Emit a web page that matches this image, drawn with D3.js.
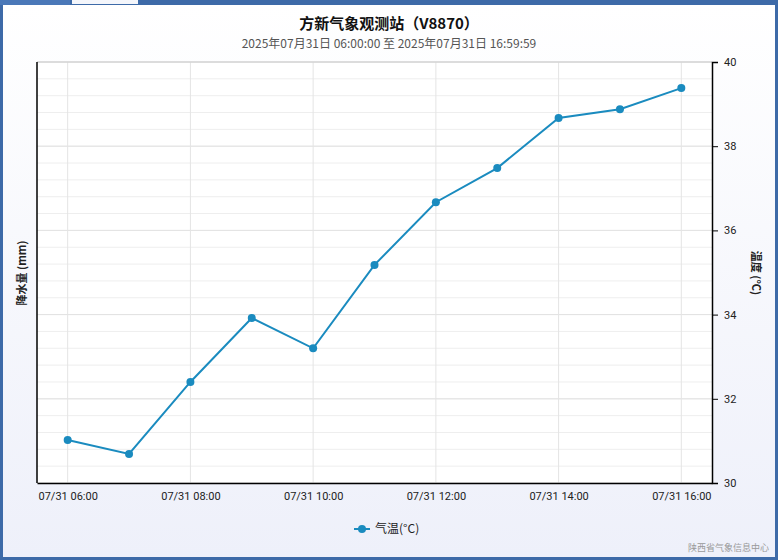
<!DOCTYPE html>
<html><head><meta charset="utf-8">
<script src="https://cdn.jsdelivr.net/npm/d3@7"></script>
<style>body{margin:0;background:#fff;font-family:"Microsoft YaHei","Noto Sans CJK SC",sans-serif}</style>
</head><body><svg id="c" width="778" height="560"></svg>
<script>
const hours = [6,7,8,9,10,11,12,13,14,15,16];
const temps = [31.02,30.69,32.4,33.92,33.2,35.18,36.67,37.48,38.67,38.88,39.38];
const xTicks = [6,8,10,12,14,16];
const yTicks = [30,32,34,36,38,40];
const title = "方新气象观测站（V8870）";
const subtitle = "2025年07月31日 06:00:00 至 2025年07月31日 16:59:59";

const svg = d3.select("#c");
const defs = svg.append("defs");
const g0 = defs.append("linearGradient").attr("id","bg").attr("x1",0).attr("y1",0).attr("x2",0).attr("y2",1);
g0.append("stop").attr("offset",0).attr("stop-color","#ffffff");
g0.append("stop").attr("offset",1).attr("stop-color","#eef0fa");
svg.append("rect").attr("width",778).attr("height",560).attr("fill","#3d6aa8");
svg.append("rect").attr("x",3).attr("y",5).attr("width",772).attr("height",552).attr("fill","url(#bg)");
svg.append("rect").attr("x",0).attr("y",0).attr("width",70).attr("height",5).attr("fill","#4a78b8");
svg.append("rect").attr("x",72).attr("y",0).attr("width",66).attr("height",4).attr("fill","#f4f6fb");

const L=37,R=712,T=62,B=483;
const x = d3.scaleLinear().domain([5.5,16.5]).range([L,R]);
const y = d3.scaleLinear().domain([30,40]).range([B,T]);
svg.append("rect").attr("x",L).attr("y",T).attr("width",R-L).attr("height",B-T).attr("fill","#fff");
const minor = d3.range(30,40.01,0.4);
svg.append("g").selectAll("line").data(minor).join("line")
  .attr("x1",L).attr("x2",R).attr("y1",d=>y(d)).attr("y2",d=>y(d)).attr("stroke","#eeeeee");
svg.append("g").selectAll("line").data(yTicks).join("line")
  .attr("x1",L).attr("x2",R).attr("y1",d=>y(d)).attr("y2",d=>y(d)).attr("stroke","#e2e2e2");
svg.append("g").selectAll("line").data(xTicks).join("line")
  .attr("x1",d=>x(d)).attr("x2",d=>x(d)).attr("y1",T).attr("y2",B).attr("stroke","#e4e4e4");
svg.append("line").attr("x1",L).attr("x2",R).attr("y1",T).attr("y2",T).attr("stroke","#ccc");

const fmt = h=>"07/31 "+String(h).padStart(2,"0")+":00";
const xa = svg.append("g").attr("transform",`translate(0,${B})`)
  .call(d3.axisBottom(x).tickValues(xTicks).tickFormat(fmt).tickSize(0).tickPadding(9));
xa.select(".domain").attr("stroke","#000").attr("stroke-width",1.5);
xa.selectAll("text").attr("font-size",11).attr("fill","#222").attr("font-family","Roboto,sans-serif");
const ya = svg.append("g").attr("transform",`translate(${R},0)`)
  .call(d3.axisRight(y).tickValues(yTicks).tickSize(6).tickPadding(6));
ya.select(".domain").attr("stroke","#000").attr("stroke-width",1.5);
ya.selectAll("text").attr("font-size",11).attr("fill","#222").attr("font-family","Roboto,sans-serif");
svg.append("line").attr("x1",L).attr("x2",L).attr("y1",T).attr("y2",B).attr("stroke","#000").attr("stroke-width",1.5);

const line = d3.line().x((d,i)=>x(hours[i])).y(d=>y(d));
svg.append("path").datum(temps).attr("d",line).attr("fill","none").attr("stroke","#1a8bbf").attr("stroke-width",2);
svg.append("g").selectAll("circle").data(temps).join("circle")
  .attr("cx",(d,i)=>x(hours[i])).attr("cy",d=>y(d)).attr("r",4).attr("fill","#1a8bbf");

svg.append("text").attr("x",389).attr("y",29).attr("text-anchor","middle").attr("font-size",15).attr("font-weight","bold").attr("fill","#111").text(title);
svg.append("text").attr("x",389).attr("y",48).attr("text-anchor","middle").attr("font-size",12).attr("fill","#555").text(subtitle);
svg.append("text").attr("transform","translate(26,273) rotate(-90)").attr("text-anchor","middle").attr("font-size",11).attr("font-weight","bold").attr("fill","#222").text("降水量 (mm)");
svg.append("text").attr("transform","translate(752,273) rotate(90)").attr("text-anchor","middle").attr("font-size",11).attr("font-weight","bold").attr("fill","#222").text("温度 (°C)");

svg.append("line").attr("x1",354).attr("x2",370).attr("y1",529).attr("y2",529).attr("stroke","#1a8bbf").attr("stroke-width",2);
svg.append("circle").attr("cx",362).attr("cy",529).attr("r",4).attr("fill","#1a8bbf");
svg.append("text").attr("x",375).attr("y",533).attr("font-size",12).attr("fill","#222").text("气温(°C)");
svg.append("text").attr("x",769).attr("y",551).attr("text-anchor","end").attr("font-size",9).attr("fill","#999").text("陕西省气象信息中心");
</script></body></html>
